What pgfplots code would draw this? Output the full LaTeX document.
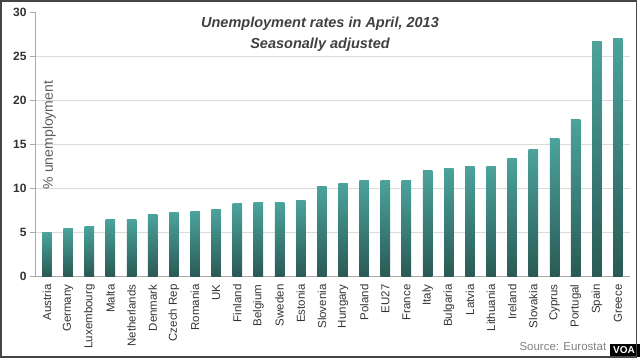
\documentclass[border=0pt]{standalone}
\usepackage{pgfplots}
\pgfplotsset{compat=1.18}
\usepackage{fontspec}
\setmainfont{Liberation Sans}
\definecolor{bartop}{HTML}{4BA39C}
\definecolor{barbot}{HTML}{2A5A55}
\definecolor{axgray}{HTML}{A8A8A8}
\definecolor{gridgray}{HTML}{DADADA}
\definecolor{txt}{HTML}{333333}
\definecolor{titlec}{HTML}{404040}
\definecolor{framec}{HTML}{454545}
\begin{document}
\begin{tikzpicture}
\path[use as bounding box] (0,0) rectangle (640pt,360pt);
\begin{axis}[
  at={(35pt,84pt)}, anchor=south west,
  scale only axis, width=595pt, height=264pt,
  xmin=-0.567, xmax=27.57, ymin=0, ymax=30,
  axis x line*=bottom, axis y line*=left,
  axis line style={axgray, line width=0.8pt},
  ytick={0,5,...,25},
  extra y ticks={30},
  extra y tick style={grid=none},
  ymajorgrids, grid style={gridgray, line width=0.8pt},
  tick align=outside, major tick length=5pt,
  ytick style={axgray, line width=0.8pt},
  xtick={0,...,27},
  x tick style={draw=none},
  xticklabels={Austria,Germany,Luxembourg,Malta,Netherlands,Denmark,Czech Rep,Romania,UK,Finland,Belgium,Sweden,Estonia,Slovenia,Hungary,Poland,EU27,France,Italy,Bulgaria,Latvia,Lithuania,Ireland,Slovakia,Cyprus,Portugal,Spain,Greece},
  xticklabel style={rotate=90, anchor=east, font=\fontsize{11.5}{12}\selectfont, text=txt},
  yticklabel style={font=\bfseries\fontsize{12}{12}\selectfont, text=txt},
  /pgf/number format/assume math mode=true,
  ylabel={\% unemployment},
  ylabel style={at={(axis description cs:0.024,0.534)}, anchor=center, font=\fontsize{14}{14}\selectfont, text=titlec!85},
  title={Unemployment rates in April, 2013\\Seasonally adjusted},
  title style={at={(axis description cs:0.479,0.893)}, anchor=center, align=center, font=\bfseries\itshape\fontsize{14.5}{21}\selectfont, text=titlec},
  clip=false,
  mybar/.style={ybar, bar width=9.5pt, bar shift=0pt, draw=none, top color=bartop, bottom color=barbot},
]
\addplot[mybar] coordinates {(0,4.9)};
\addplot[mybar] coordinates {(1,5.4)};
\addplot[mybar] coordinates {(2,5.6)};
\addplot[mybar] coordinates {(3,6.4)};
\addplot[mybar] coordinates {(4,6.4)};
\addplot[mybar] coordinates {(5,7.0)};
\addplot[mybar] coordinates {(6,7.2)};
\addplot[mybar] coordinates {(7,7.3)};
\addplot[mybar] coordinates {(8,7.6)};
\addplot[mybar] coordinates {(9,8.2)};
\addplot[mybar] coordinates {(10,8.3)};
\addplot[mybar] coordinates {(11,8.3)};
\addplot[mybar] coordinates {(12,8.6)};
\addplot[mybar] coordinates {(13,10.2)};
\addplot[mybar] coordinates {(14,10.5)};
\addplot[mybar] coordinates {(15,10.8)};
\addplot[mybar] coordinates {(16,10.9)};
\addplot[mybar] coordinates {(17,10.9)};
\addplot[mybar] coordinates {(18,12.0)};
\addplot[mybar] coordinates {(19,12.2)};
\addplot[mybar] coordinates {(20,12.4)};
\addplot[mybar] coordinates {(21,12.4)};
\addplot[mybar] coordinates {(22,13.4)};
\addplot[mybar] coordinates {(23,14.4)};
\addplot[mybar] coordinates {(24,15.6)};
\addplot[mybar] coordinates {(25,17.8)};
\addplot[mybar] coordinates {(26,26.7)};
\addplot[mybar] coordinates {(27,27.0)};
\end{axis}
\node[anchor=west, text=gray, font=\fontsize{11.5}{12}\selectfont] at (516pt,13pt) {Source: Eurostat};
\fill[black] (610pt,3pt) rectangle (640pt,16pt);
\node[text=white, font=\bfseries\fontsize{10}{10}\selectfont] at (624pt,9.5pt) {VOA};
\draw[framec, line width=1.6pt] (0.8pt,2.8pt) rectangle (636.5pt,359.2pt);
\end{tikzpicture}
\end{document}
